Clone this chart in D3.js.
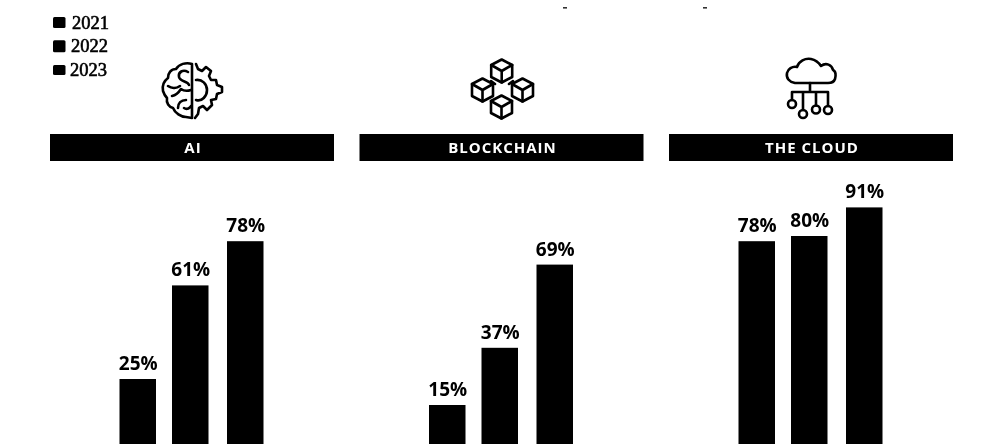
<!DOCTYPE html>
<html><head><meta charset="utf-8">
<script src="https://cdn.jsdelivr.net/npm/d3@7/dist/d3.min.js"></script>
<style>html,body{margin:0;padding:0;background:#fff;overflow:hidden}svg{display:block}</style>
</head><body><svg id="c" width="983" height="446"><defs><filter id="b" filterUnits="userSpaceOnUse" x="0" y="0" width="983" height="446"><feGaussianBlur stdDeviation="0.55"/></filter></defs></svg>
<script>
const years = ["2021","2022","2023"];
const categories = ["AI","BLOCKCHAIN","THE CLOUD"];
const aiValues = [25,61,78];
const blockchainValues = [15,37,69];
const cloudValues = [78,80,91];
const seriesValues = [aiValues,blockchainValues,cloudValues];

const svg = d3.select("#c");
const root = svg.append("g").attr("filter","url(#b)");
root.append("rect").attr("width",983).attr("height",446).attr("fill","#fff");
const panelX = d3.scalePoint().domain(categories).range([50,669]);
const panelW = 284;
const barX = d3.scaleOrdinal().domain(years).range([69.5,122,177]);
const barW = 36.5;
const y = d3.scaleLinear().domain([0,100]).range([444,184]);

// legend
const legY = d3.scalePoint().domain(years).range([22.5,70]);
const legH = d3.scaleOrdinal().domain(years).range([11,12,10]);
const legTextX = d3.scaleOrdinal().domain(years).range([72,71,70]);
const leg = root.append("g").selectAll("g").data(years).join("g");
leg.append("rect").attr("x",53).attr("y",d=>legY(d)-legH(d)/2).attr("width",12.5).attr("height",d=>legH(d)).attr("rx",1.5).attr("fill","#000");
leg.append("text").attr("x",d=>legTextX(d)).attr("y",d=>legY(d)+6)
  .attr("font-family","Liberation Serif").attr("font-size",18.5).attr("fill","#000").attr("stroke","#000").attr("stroke-width",.6).text(d=>d);

// stray tick marks at the top edge
root.append("g").selectAll("rect").data([565,705]).join("rect")
  .attr("x",d=>d-2).attr("y",7).attr("width",4).attr("height",1.6).attr("fill","#333");

const panels = root.append("g").selectAll("g").data(categories).join("g")
  .attr("transform",d=>`translate(${panelX(d)},0)`);
panels.append("rect").attr("y",134).attr("width",panelW).attr("height",27).attr("fill","#000");
panels.append("text").attr("x",panelW/2+1).attr("y",152.5).attr("text-anchor","middle")
  .attr("font-family","Open Sans").attr("font-weight",700).attr("font-size",15).attr("letter-spacing",1).attr("fill","#fff").text(d=>d);

panels.each(function(cat,i){
  const g = d3.select(this);
  const rows = years.map((yr,j)=>({yr,v:seriesValues[i][j]}));
  g.selectAll("rect.bar").data(rows).join("rect").attr("class","bar")
    .attr("x",d=>barX(d.yr)).attr("y",d=>y(d.v)).attr("width",barW).attr("height",d=>y(0)-y(d.v)).attr("fill","#000");
  g.selectAll("text.val").data(rows).join("text").attr("class","val")
    .attr("x",d=>barX(d.yr)+barW/2+.5).attr("y",d=>y(d.v)-9).attr("text-anchor","middle")
    .attr("font-family","Open Sans").attr("font-weight",700).attr("font-size",19).attr("fill","#000").text(d=>d.v+"%");
});

// icons
const ic = root.append("g").attr("fill","none").attr("stroke","#000").attr("stroke-width",2.6).attr("stroke-linejoin","round").attr("stroke-linecap","round");
// brain + gear
const brain = ic.append("g");
brain.append("path").attr("d","M192 64V118M192 64C186 62 179 64 176 69C171 69 168 73 168 78C164 81 162 86 163 91C164 94 165 96 167 98C166 103 169 107 173 108C175 113 181 117 186 117L192 118");
brain.append("path").attr("d","M188 72C183 69 178 72 179 77C180 82 188 81 189 85M168 86C172 89 177 88 180 86M172 96C177 95 179 92 181 89C185 92 188 91 191 90M178 108C178 103 181 100 186 100M184 108C187 110 190 108 191 106");
brain.append("path").attr("d","M196 64L198 69L202 71L206 67L211 71L209 76L211 80L216 80L217 85L222 87V92L217 94L216 99L211 100L212 105L207 110L203 106L199 108L198 114L195 118");
brain.append("path").attr("d","M196 80C202 79 207 84 207 90C207 96 202 102 196 100");
// blockchain cubes
const cube = (cx,cy)=>{ const g=ic.append("g").attr("transform",`translate(${cx},${cy})`);
  g.append("path").attr("d","M0 -11.5L10.5 -6V6L0 11.5L-10.5 6V-6Z");
  g.append("path").attr("d","M-10.5 -6L0 0L10.5 -6M0 0V11.5");
};
[[501.7,71],[482.5,90],[522.5,90],[501.5,107]].forEach(c=>cube(c[0],c[1]));
ic.append("path").attr("d","M491 81L495 84M513 81L509 84");
// cloud network
const cl = ic.append("g");
cl.append("path").attr("d","M795 83C789 82 786 78 787 73C788 69 792 66 797 67C799 61 805 58 811 59C816 60 819 63 821 66C826 62 832 65 833 70C836 71 836 76 835 79C834 82 831 83 828 83Z");
cl.append("path").attr("d","M810 83V92M792 92H828M792 92V100M803 92V110M816 92V105.5M828 92V106");
[[792,104,4],[803,114,4],[816,109.5,4],[828,110,4]].forEach(c=>cl.append("circle").attr("cx",c[0]).attr("cy",c[1]).attr("r",c[2]));
</script></body></html>
